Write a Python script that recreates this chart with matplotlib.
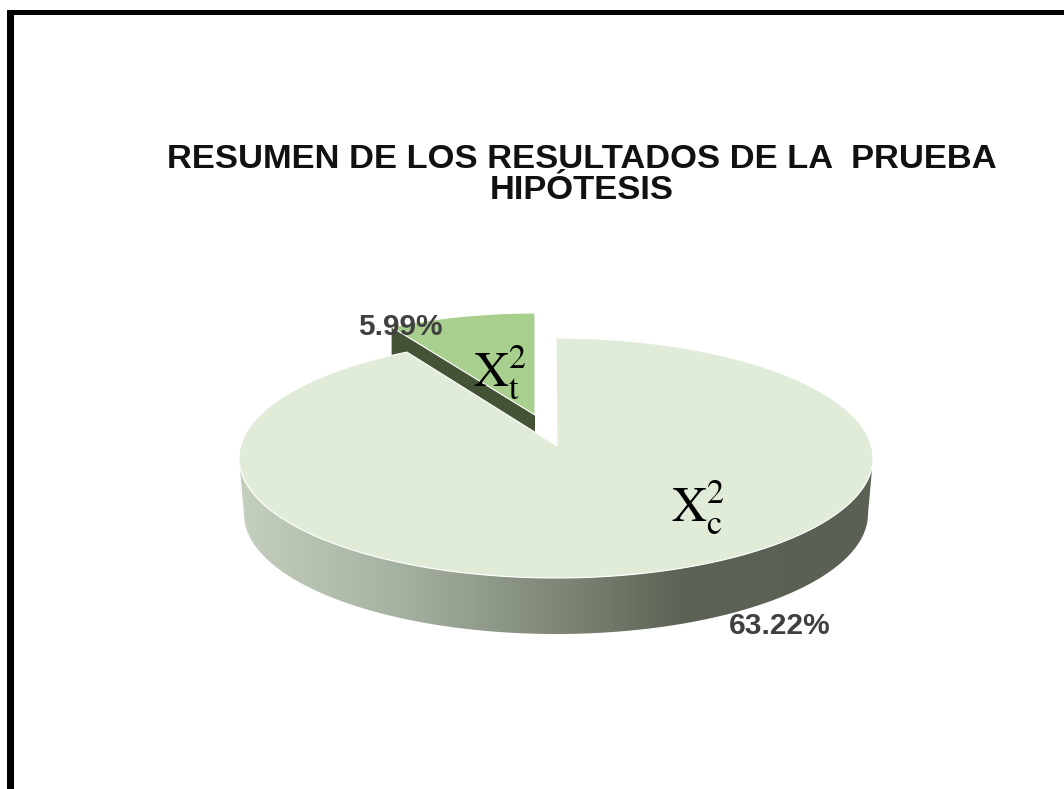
import numpy as np
import matplotlib
matplotlib.use("Agg")
import matplotlib.pyplot as plt
from matplotlib.colors import LinearSegmentedColormap
from matplotlib.patches import Polygon, Rectangle

title = "RESUMEN DE LOS RESULTADOS DE LA  PRUEBA\nHIPÓTESIS"
values = [63.22, 5.99]
value_labels = ["63.22%", "5.99%"]
slice_labels = [r"$\mathrm{X}_{\mathrm{c}}^{2}$", r"$\mathrm{X}_{\mathrm{t}}^{2}$"]
slice_colors = ["#e0ecd8", "#a9cf8e"]

plt.rcParams["font.family"] = ["Liberation Sans", "DejaVu Sans"]
plt.rcParams["mathtext.fontset"] = "stix"

# axes use image pixels, so the pie geometry can be tuned directly
fig = plt.figure(figsize=(10.64, 7.89), dpi=100)
ax = fig.add_axes([0, 0, 1, 1])

CX, CY, RX, RY = 556, 458, 317, 120
PERSPECTIVE = 0.9
small_deg = 360 * values[1] / sum(values) * PERSPECTIVE


def arc(cx, cy, rx, ry, start, stop):
    # angles clockwise from 12 o'clock
    t = np.radians(np.linspace(start, stop, 200))
    return np.column_stack([cx + rx * np.sin(t), cy - ry * np.cos(t)])


# outer wall with a left to right shade
wall_top = arc(CX, CY, RX, RY, 90, 270)
wall_bottom = arc(CX, CY + 56, RX - 5, RY, 270, 90)
wall = Polygon(np.vstack([wall_top, wall_bottom]), closed=True, facecolor="none", edgecolor="none")
ax.add_patch(wall)
shade = LinearSegmentedColormap.from_list("wall", [
    (0.0, "#c4cfbe"), (0.25, "#a6b2a1"), (0.5, "#7f8878"), (0.7, "#5c6356"), (1.0, "#5a6154"),
])
img = ax.imshow(np.linspace(0, 1, 256)[None, :], cmap=shade, extent=(239, 874, 640, 440), aspect="auto", zorder=1)
img.set_clip_path(wall)

# small slice, pulled out of the pie
sx, sy = CX - 21, CY - 25
small_apex = (535, 415)
small_arc = arc(sx, sy, RX - 12, RY, -small_deg, 0)
tip = small_arc[0]
ax.add_patch(Polygon([tip, small_apex, (small_apex[0], small_apex[1] + 22), (tip[0], tip[1] + 28)],
                     closed=True, facecolor="#445236", edgecolor="none", zorder=2))
ax.add_patch(Polygon(np.vstack([[small_apex], small_arc]), closed=True,
                     facecolor=slice_colors[1], edgecolor="white", linewidth=0.8, zorder=3))

# big slice
big_arc = arc(CX, CY, RX, RY, 0, 360 - small_deg)
ax.add_patch(Polygon(np.vstack([[(CX + 1, 446)], big_arc]), closed=True,
                     facecolor=slice_colors[0], edgecolor="white", linewidth=0.8, zorder=4))

# frame of the pasted picture
ax.add_patch(Rectangle((7, 10), 1064 - 7, 5, facecolor="black", edgecolor="none", zorder=6))
ax.add_patch(Rectangle((7, 10), 7, 789 - 10, facecolor="black", edgecolor="none", zorder=6))

ax.text(582, 175, title, ha="center", va="center", fontsize=24.8, fontweight="bold",
        color="#111111", linespacing=0.98, zorder=7)
ax.text(780, 626, value_labels[0], ha="center", va="center", fontsize=21.5, fontweight="bold", color="#404040", zorder=7)
ax.text(400, 327, value_labels[1], ha="center", va="center", fontsize=21.5, fontweight="bold", color="#404040", zorder=7)
ax.text(698, 507, slice_labels[0], ha="center", va="center", fontsize=35, color="black", zorder=7)
ax.text(500, 372, slice_labels[1], ha="center", va="center", fontsize=35, color="black", zorder=7)

ax.set_xlim(0, 1064)
ax.set_ylim(789, 0)
ax.axis("off")
fig.savefig("out.png", dpi=100)
